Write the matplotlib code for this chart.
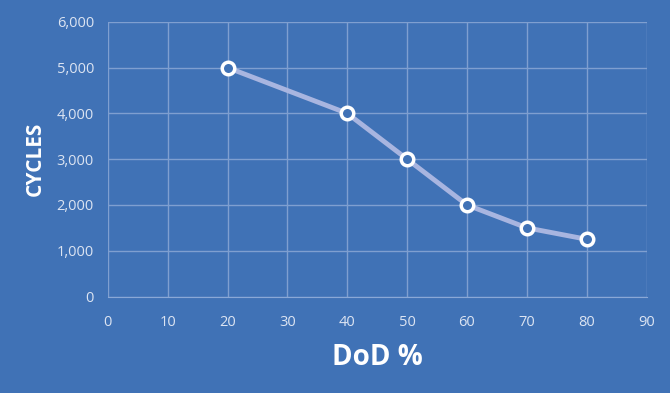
import matplotlib
matplotlib.use("Agg")
from matplotlib import pyplot as plt
from matplotlib.ticker import FuncFormatter

dod = [20, 40, 50, 60, 70, 80]
cycles = [5000, 4000, 3000, 2000, 1500, 1250]
x_ticks = list(range(0, 91, 10))
y_ticks = list(range(0, 6001, 1000))

bg = "#4072b6"
plt.rcParams['font.family'] = ['Open Sans', 'DejaVu Sans']

fig = plt.figure(figsize=(6.7, 3.93), dpi=100, facecolor=bg)
ax = fig.add_axes([0.161, 0.2455, 0.804, 0.699])
ax.set_facecolor(bg)

ax.plot(dod, cycles, color="#a8b5e0", lw=3.5, zorder=3,
        marker="o", markersize=9, markerfacecolor=bg,
        markeredgecolor="white", markeredgewidth=2.5)

ax.set_xlim(0, 90)
ax.set_ylim(0, 6000)
ax.set_xticks(x_ticks)
ax.set_yticks(y_ticks)
ax.yaxis.set_major_formatter(FuncFormatter(lambda v, p: f"{int(v):,}"))
ax.grid(True, color="#7f9fd0", lw=1.0)
ax.tick_params(length=0, colors="#dce4f2", labelsize=10.5)
ax.tick_params(axis="x", pad=13)
ax.tick_params(axis="y", pad=10)
for s in ["top", "right", "left"]:
    ax.spines[s].set_visible(False)
ax.spines["bottom"].set_color("#8aa8d6")

ax.set_xlabel("DoD %", color="white", fontsize=20, fontweight="bold", labelpad=10)
ax.set_ylabel("CYCLES", color="white", fontsize=15, fontweight="bold", labelpad=8)

fig.savefig("out.png", dpi=100, facecolor=bg)
